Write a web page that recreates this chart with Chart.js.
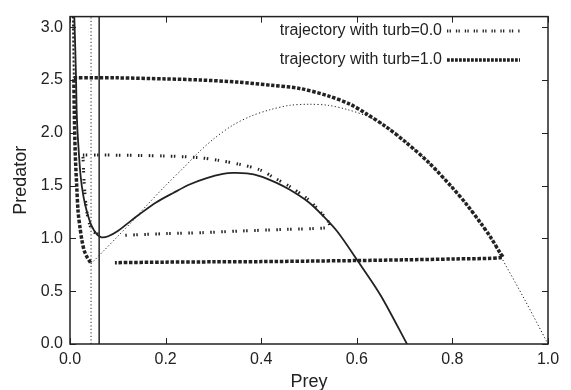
<!DOCTYPE html>
<html lang="en">
<head>
    <meta charset="UTF-8">
    <title>Predator-prey phase plane</title>
    <script src="https://cdn.jsdelivr.net/npm/chart.js"></script>
    <style>
        body { margin: 0; background: #fff; }
    </style>
</head>
<body>
    <canvas id="phaseChart" width="571" height="390"></canvas>

    <script>
        // prey nullcline (solid)
        const solidPrey = [0.009, 0.011, 0.013, 0.014, 0.016, 0.022, 0.028, 0.035, 0.045, 0.056, 0.066, 0.08, 0.1, 0.12, 0.146, 0.18, 0.216, 0.25, 0.286, 0.32, 0.341, 0.37, 0.397, 0.43, 0.46, 0.5, 0.53, 0.56, 0.6, 0.65, 0.705];
        const solidPred = [3.1, 2.8, 2.43, 2.2, 1.99, 1.6, 1.4, 1.26, 1.12, 1.04, 1.01, 1.02, 1.07, 1.14, 1.23, 1.34, 1.43, 1.51, 1.57, 1.61, 1.62, 1.615, 1.59, 1.53, 1.46, 1.34, 1.21, 1.06, 0.80, 0.46, 0];

        // prey nullcline with turbulence (dotted)
        const dottedPrey = [0.044, 0.07, 0.1, 0.13, 0.16, 0.2, 0.24, 0.268, 0.3, 0.34, 0.38, 0.42, 0.46, 0.5, 0.54, 0.58, 0.62, 0.66, 0.7, 0.75, 0.8, 0.83, 0.86, 0.88, 0.9, 0.95, 1.0];
        const dottedPred = [0.76, 0.88, 1.02, 1.16, 1.31, 1.5, 1.68, 1.81, 1.94, 2.07, 2.16, 2.22, 2.26, 2.27, 2.26, 2.22, 2.16, 2.07, 1.93, 1.72, 1.48, 1.32, 1.14, 1.01, 0.84, 0.43, 0];

        // predator nullclines (vertical lines)
        const predNullX = 0.061;
        const predNullTurbX = 0.044;
        const yRange = [0, 3.1];

        // trajectory, turb=0.0 (null = gap in the line)
        const traj0Prey = [0.027, 0.063, 0.146, 0.2, 0.268, 0.31, 0.356, 0.397, 0.425, 0.46, 0.495, 0.52, 0.54, 0.543, 0.537, 0.45, 0.356, 0.28, 0.2, 0.115, null, 0.059, 0.05, 0.042, 0.035, 0.03, 0.027];
        const traj0Pred = [1.79, 1.79, 1.785, 1.78, 1.765, 1.74, 1.70, 1.65, 1.58, 1.49, 1.38, 1.27, 1.16, 1.12, 1.10, 1.085, 1.07, 1.055, 1.045, 1.03, null, 1.04, 1.06, 1.12, 1.26, 1.5, 1.79];

        // trajectory, turb=1.0
        const traj1Prey = [0.008, 0.05, 0.1, 0.2, 0.272, 0.35, 0.42, 0.48, 0.54, 0.586, 0.62, 0.66, 0.7, 0.75, 0.8, 0.83, 0.86, 0.88, 0.9, 0.905, 0.8, 0.7, 0.6, 0.5, 0.4, 0.3, 0.2, 0.094, null, 0.043, 0.036, 0.03, 0.025, 0.021, 0.017, 0.014, 0.011, 0.009, 0.008];
        const traj1Pred = [2.52, 2.52, 2.52, 2.51, 2.50, 2.48, 2.45, 2.42, 2.35, 2.27, 2.18, 2.06, 1.92, 1.72, 1.48, 1.32, 1.14, 1.01, 0.86, 0.82, 0.805, 0.797, 0.79, 0.785, 0.78, 0.778, 0.775, 0.77, null, 0.77, 0.82, 0.88, 0.98, 1.1, 1.25, 1.5, 1.8, 2.2, 2.52];
        // its first approach from the top
        const startPrey = [0.006, 0.007, 0.008];
        const startPred = [3.1, 2.8, 2.52];

        const xTicks = [0, 0.2, 0.4, 0.6, 0.8, 1.0];
        const yTicks = [0, 0.5, 1.0, 1.5, 2.0, 2.5, 3.0];

        function points(xs, ys) {
            return xs.map((x, i) => ({ x: x, y: ys[i] }));
        }

        const ink = '#222';

        // box around the plot with inward tick marks on all four sides
        const frameTicks = {
            id: 'frameTicks',
            afterDatasetsDraw(chart) {
                const { ctx, chartArea: a, scales: { x, y } } = chart;
                ctx.save();
                ctx.strokeStyle = ink;
                ctx.lineWidth = 1;
                ctx.beginPath();
                xTicks.forEach(v => {
                    const px = Math.round(x.getPixelForValue(v)) + 0.5;
                    ctx.moveTo(px, a.bottom); ctx.lineTo(px, a.bottom - 6);
                    ctx.moveTo(px, a.top); ctx.lineTo(px, a.top + 6);
                });
                yTicks.forEach(v => {
                    const py = Math.round(y.getPixelForValue(v)) + 0.5;
                    ctx.moveTo(a.left, py); ctx.lineTo(a.left + 6, py);
                    ctx.moveTo(a.right, py); ctx.lineTo(a.right - 6, py);
                });
                ctx.stroke();
                ctx.lineWidth = 1.5;
                ctx.strokeRect(a.left, a.top, a.right - a.left, a.bottom - a.top);
                ctx.restore();
            }
        };

        // legend: right-aligned text with a line sample after it
        const sideLegend = {
            id: 'sideLegend',
            afterDraw(chart) {
                const { ctx } = chart;
                const rows = chart.data.datasets.filter(d => d.inLegend);
                ctx.save();
                ctx.font = '16px "Liberation Sans", Arial, sans-serif';
                ctx.fillStyle = ink;
                ctx.textAlign = 'right';
                ctx.textBaseline = 'middle';
                rows.forEach((d, i) => {
                    const ty = 31 + i * 29;
                    ctx.fillText(d.label, 442, ty);
                    ctx.strokeStyle = d.borderColor;
                    ctx.lineWidth = d.borderWidth;
                    ctx.setLineDash(d.legendDash || d.borderDash);
                    ctx.beginPath();
                    ctx.moveTo(447, ty);
                    ctx.lineTo(520, ty);
                    ctx.stroke();
                });
                ctx.restore();
            }
        };

        new Chart(document.getElementById('phaseChart'), {
            type: 'scatter',
            data: {
                datasets: [
                    {
                        label: 'prey nullcline',
                        data: points(solidPrey, solidPred),
                        showLine: true, borderColor: ink, borderWidth: 1.8,
                        pointRadius: 0, tension: 0.3
                    },
                    {
                        label: 'prey nullcline turb',
                        data: points(dottedPrey, dottedPred),
                        showLine: true, borderColor: ink, borderWidth: 1,
                        borderDash: [1.2, 2.3], pointRadius: 0, tension: 0.3
                    },
                    {
                        label: 'predator nullcline',
                        data: points([predNullX, predNullX], yRange),
                        showLine: true, borderColor: ink, borderWidth: 1.5, pointRadius: 0
                    },
                    {
                        label: 'predator nullcline turb',
                        data: points([predNullTurbX, predNullTurbX], yRange),
                        showLine: true, borderColor: ink, borderWidth: 1,
                        borderDash: [1.2, 2.3], pointRadius: 0
                    },
                    {
                        label: 'trajectory with turb=0.0',
                        inLegend: true,
                        data: points(traj0Prey, traj0Pred),
                        showLine: true, borderColor: ink, borderWidth: 3,
                        borderDash: [1.5, 1.5, 1.5, 6.5], legendDash: [1.3, 1.3, 1.3, 5],
                        pointRadius: 0, tension: 0.3
                    },
                    {
                        label: 'trajectory with turb=1.0',
                        inLegend: true,
                        data: points(traj1Prey, traj1Pred),
                        showLine: true, borderColor: ink, borderWidth: 3.5,
                        borderDash: [3.5, 1.7], legendDash: [2.8, 1.2],
                        pointRadius: 0, tension: 0.3
                    },
                    {
                        label: 'start',
                        data: points(startPrey, startPred),
                        showLine: true, borderColor: ink, borderWidth: 2,
                        borderDash: [2, 2], pointRadius: 0
                    }
                ]
            },
            options: {
                responsive: false,
                animation: false,
                layout: { padding: { top: 11, right: 23, left: 0, bottom: 0 } },
                plugins: {
                    legend: { display: false },
                    tooltip: { enabled: false }
                },
                scales: {
                    x: {
                        type: 'linear', min: 0, max: 1,
                        afterFit: s => { s.height = 46; },
                        afterBuildTicks: s => { s.ticks = xTicks.map(v => ({ value: v })); },
                        grid: { display: false, drawTicks: false },
                        border: { display: false },
                        ticks: {
                            padding: 6, color: ink,
                            font: { family: '"Liberation Sans", Arial, sans-serif', size: 16 },
                            callback: v => v.toFixed(1)
                        },
                        title: {
                            display: true, text: 'Prey', color: ink,
                            font: { family: '"Liberation Sans", Arial, sans-serif', size: 18 },
                            padding: { top: 0, bottom: -3 }
                        }
                    },
                    y: {
                        type: 'linear', min: 0, max: 3.1,
                        afterFit: s => { s.width = 70; },
                        afterBuildTicks: s => { s.ticks = yTicks.map(v => ({ value: v })); },
                        grid: { display: false, drawTicks: false },
                        border: { display: false },
                        ticks: {
                            padding: 7, color: ink,
                            font: { family: '"Liberation Sans", Arial, sans-serif', size: 16 },
                            callback: v => v.toFixed(1)
                        },
                        title: {
                            display: true, text: 'Predator', color: ink,
                            font: { family: '"Liberation Sans", Arial, sans-serif', size: 18 },
                            padding: { top: 10, bottom: 0 }
                        }
                    }
                }
            },
            plugins: [frameTicks, sideLegend]
        });
    </script>
</body>
</html>
